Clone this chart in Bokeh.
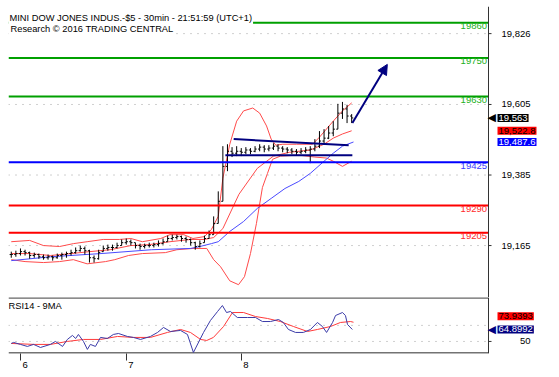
from bokeh.plotting import figure
from bokeh.layouts import column
from bokeh.models import Range1d, FixedTicker, Label, Span, Arrow, NormalHead
from bokeh.core.properties import value
from bokeh.embed import file_html
from bokeh.resources import INLINE

# ---------------- data ----------------
title1 = "MINI DOW JONES INDUS.-$5 - 30min - 21:51:59 (UTC+1)"
title2 = "Research \u00a9 2016 TRADING CENTRAL"
rsi_title = "RSI14 - 9MA"

bar_idx = list(range(0, 150, 2))
close = [19137, 19140, 19146, 19143, 19134, 19137, 19130, 19127, 19130, 19127,
         19134, 19137, 19140, 19143, 19149, 19156, 19149, 19127, 19124, 19143,
         19156, 19159, 19159, 19165, 19174, 19177, 19174, 19165, 19162, 19165,
         19165, 19168, 19171, 19177, 19187, 19190, 19193, 19187, 19184, 19174,
         19162, 19171, 19187, 19199, 19234, 19303, 19412, 19459, 19453, 19459,
         19456, 19463, 19459, 19466, 19472, 19466, 19469, 19475, 19469, 19466,
         19463, 19459, 19456, 19459, 19463, 19466, 19475, 19491, 19500, 19516,
         19528, 19578, 19591, 19569, 19563]
high = [19146, 19149, 19156, 19152, 19146, 19143, 19140, 19137, 19137, 19134,
        19140, 19143, 19146, 19152, 19159, 19165, 19162, 19152, 19134, 19152,
        19165, 19168, 19168, 19174, 19184, 19187, 19184, 19174, 19171, 19171,
        19174, 19174, 19181, 19187, 19196, 19199, 19199, 19196, 19193, 19187,
        19177, 19181, 19196, 19212, 19256, 19334, 19475, 19481, 19472, 19475,
        19469, 19472, 19469, 19475, 19481, 19478, 19478, 19484, 19481, 19475,
        19472, 19469, 19466, 19469, 19472, 19475, 19497, 19522, 19528, 19538,
        19553, 19607, 19613, 19604, 19575]
low = [19127, 19130, 19134, 19134, 19124, 19127, 19124, 19121, 19121, 19118,
       19124, 19121, 19127, 19134, 19140, 19146, 19137, 19112, 19112, 19121,
       19146, 19149, 19149, 19156, 19165, 19168, 19165, 19156, 19152, 19156,
       19159, 19159, 19162, 19168, 19177, 19181, 19184, 19177, 19174, 19165,
       19152, 19159, 19174, 19187, 19199, 19234, 19303, 19397, 19441, 19444,
       19444, 19450, 19450, 19456, 19459, 19456, 19459, 19463, 19459, 19456,
       19453, 19450, 19447, 19450, 19453, 19422, 19459, 19469, 19481, 19497,
       19506, 19528, 19560, 19547, 19547]

# Bollinger bands (upper / middle / lower) and blue moving average
ub_x = [0, 8, 14, 21, 27, 33, 40, 47, 52, 57, 65, 69, 75, 79, 84, 87, 90, 92, 95, 98,
        101, 105, 108, 111, 113, 115, 118, 124, 131, 134, 140, 144, 148]
ub_y = [19177, 19181, 19165, 19162, 19171, 19177, 19184, 19184, 19187, 19177, 19187, 19199,
        19199, 19187, 19193, 19215, 19256, 19375, 19481, 19553, 19585, 19594, 19578, 19538,
        19497, 19478, 19481, 19481, 19481, 19503, 19553, 19585, 19610]
mb_x = [0, 8, 17, 26, 34, 43, 52, 60, 69, 78, 84, 88, 92, 99, 107, 114, 121, 130, 136, 140, 144, 148]
mb_y = [19140, 19140, 19134, 19140, 19146, 19152, 19165, 19168, 19177, 19184, 19184, 19190,
        19218, 19325, 19406, 19444, 19456, 19463, 19481, 19500, 19513, 19523]
lb_x = [0, 6, 14, 21, 27, 33, 41, 45, 51, 57, 67, 72, 79, 85, 88, 91, 95, 98.8, 101.4, 104,
        106.6, 109.2, 111.4, 113.6, 117, 125, 132, 137, 140, 144, 148]
lb_y = [19121, 19115, 19112, 19115, 19121, 19108, 19115, 19121, 19134, 19140, 19143, 19152,
        19156, 19156, 19121, 19099, 19055, 19043, 19068, 19140, 19234, 19346, 19390, 19434,
        19444, 19447, 19441, 19438, 19428, 19412, 19428]
ma_x = [0, 17, 39, 61, 78, 82, 87, 90, 95, 101, 107, 113, 119, 125, 130, 136, 140, 144, 148.8]
ma_y = [19118, 19130, 19140, 19152, 19156, 19162, 19171, 19177, 19209, 19240, 19281, 19312,
        19343, 19365, 19390, 19428, 19453, 19475, 19488]

# analyst drawings
trend_up_x = [96.7, 146.7]
trend_up_y = [19497, 19478]
trend_lo_x = [93.1, 148.3]
trend_lo_y = [19447, 19447]
arrow_x = [148.3, 163.5]
arrow_y = [19547, 19730]

levels_green = [19860, 19750, 19630]
levels_blue = [19425]
levels_red = [19290, 19205]

price_ticks = [19826, 19605, 19385, 19165]
day_ticks = [4, 50, 100]
day_label_pos = [6, 52, 102]
day_labels = ["6", "7", "8"]

last_price = 19563
last_mid = 19522.8
last_ma = 19487.6

# RSI panel
rsi_x = [0, 1, 4, 7, 9.7, 12.7, 17, 19.2, 22.3, 24.4, 26.6, 28, 29.2, 31.4, 33.1, 34.4, 36.6,
         38.8, 41.8, 44.4, 46.6, 50.5, 53.1, 56.2, 60.5, 63.6, 66.2, 69.2, 73.6, 76.6, 79.2,
         83.6, 86.6, 89.7, 91.8, 93.6, 95.3, 98.3, 102.7, 106.2, 109.2, 112.7, 116.2, 118.3,
         120.5, 123.6, 127, 130.1, 133.1, 135.3, 137.1, 139.7, 141, 144, 145.3, 146.2, 148.3]
rsi_y = [47.5, 48.8, 46.3, 43.8, 46.3, 42.5, 46.3, 50, 43.8, 52.5, 57.5, 53.7, 58.7, 50, 40.1,
         46.3, 43.8, 55, 53.7, 58.7, 59.9, 56.2, 55, 52.5, 56.2, 61.2, 67.4, 62.4, 63.7, 58.7,
         36.3, 61.2, 76.1, 87.3, 94.7, 86, 87.3, 79.8, 79.8, 79.8, 74.8, 74.8, 77.3, 73.6, 64.9,
         61.2, 61.2, 64.9, 73.6, 68.6, 61.2, 73.6, 82.3, 86, 82.3, 71.1, 64.9]
rma_x = [0, 10, 17, 24.4, 31.4, 38.8, 46.2, 53.1, 60.5, 67.9, 73.6, 77.9, 82.3, 85, 87.9,
         92.3, 96.2, 101, 106.2, 111.4, 117, 122.7, 128.8, 133.1, 138.8, 143.1, 147.5, 148.8]
rma_y = [47.5, 46.3, 46.3, 50, 52.5, 52.5, 56.2, 55, 55, 61.2, 64.9, 61.2, 52.5, 51.2, 55,
         68.6, 86, 86, 81, 78.6, 74.8, 68.6, 62.4, 64.9, 68.6, 73.6, 74.8, 73.9]
rsi_ticks = [50]
rsi_grid = [50, 70]
last_rsi = 64.8992
last_rsima = 73.9393

# ---------------- layout constants ----------------
FONT = "Liberation Sans"
FS = "9.5px"
NAVY = "#000080"
BAND = "#ff4a4a"
AXC = "#333333"
GRIDC = "#a0a0a0"
PXU = 2.3                      # pixels per bar index
X0 = -1.2                      # left edge of the plot
AX = 207.5                     # position of the price scale line
X_END = X0 + 543 / PXU         # frame reaches into the right margin (for price tags)
xr = Range1d(X0, X_END)

opens = []
prev = close[0]
for c, h, l in zip(close, high, low):
    opens.append(min(max(prev, l), h))
    prev = c


def right_scale(fig, ticks, labels, label_dx, align):
    n = len(ticks)
    fig.add_layout(Span(location=AX, dimension="height", line_color=AXC, line_width=1))
    fig.segment([AX] * n, ticks, [AX + 3 / PXU] * n, ticks, line_color=AXC, line_width=1)
    fig.text([AX + label_dx / PXU] * n, ticks, text=labels, text_align=align,
             text_baseline="middle", text_font=value(FONT), text_font_size=value(FS),
             text_color="black")


def grid(fig, ys):
    n = len(ys)
    fig.segment([X0] * n, ys, [AX] * n, ys, line_color=GRIDC, line_dash="1 6", line_width=1)


def tag(fig, y, text, bg, fg, yoff=0, pointer=False):
    if pointer:
        fig.add_layout(Label(x=AX, y=y, text="\u25c0", x_offset=-1, y_offset=yoff,
                             text_align="left", text_baseline="middle",
                             text_font="DejaVu Sans", text_font_size="11px", text_color=bg))
    fig.add_layout(Label(x=AX, y=y, text=text, x_offset=9, y_offset=yoff, text_align="left",
                         text_baseline="middle", text_font=FONT, text_font_size=FS,
                         text_color=fg, background_fill_color=bg, padding=1))


# ---------------- price panel ----------------
p = figure(frame_width=543, frame_height=291, x_range=xr, y_range=Range1d(19003, 19910.6),
           y_axis_location=None, x_axis_location=None, output_backend="svg",
           toolbar_location=None, min_border_left=8, min_border_right=0,
           min_border_top=6, min_border_bottom=0, outline_line_color=None)
p.grid.visible = False

grid(p, price_ticks)
right_scale(p, price_ticks, [f"{t:,}" for t in price_ticks], 13, "left")

p.line(ub_x, ub_y, line_color=BAND, line_width=1)
p.line(mb_x, mb_y, line_color=BAND, line_width=1)
p.line(lb_x, lb_y, line_color=BAND, line_width=1)
p.line(ma_x, ma_y, line_color="#4a4aff", line_width=1)

p.segment(bar_idx, low, bar_idx, high, line_color="black", line_width=1)
p.segment([i - 0.7 for i in bar_idx], opens, bar_idx, opens, line_color="black", line_width=1)
p.segment(bar_idx, close, [i + 0.7 for i in bar_idx], close, line_color="black", line_width=1)

p.line(trend_up_x, trend_up_y, line_color=NAVY, line_width=2)
p.line(trend_lo_x, trend_lo_y, line_color=NAVY, line_width=2)
p.add_layout(Arrow(end=NormalHead(size=10, fill_color=NAVY, line_color=NAVY),
                   x_start=arrow_x[0], y_start=arrow_y[0], x_end=arrow_x[1], y_end=arrow_y[1],
                   line_color=NAVY, line_width=2))

for levels, lc, tc in ((levels_green, "#00a000", "#20b020"),
                       (levels_blue, "#0000ff", "#3a3aff"),
                       (levels_red, "#ff0000", "#ff2a2a")):
    n = len(levels)
    p.segment([X0] * n, levels, [AX] * n, levels, line_color=lc, line_width=2)
    for lv in levels:
        p.add_layout(Label(x=AX, y=lv, text=str(lv), text_align="right", text_baseline="top",
                           x_offset=-1.5, y_offset=-0.5, text_font=FONT, text_font_size=FS,
                           text_color=tc))

p.add_layout(Label(x=X0, y=19892, text=title1, text_align="left", text_baseline="top",
                   text_font=FONT, text_font_size="9.3px", text_color="black",
                   background_fill_color="white", padding=1))
p.add_layout(Label(x=X0, y=19862, text=title2, text_align="left", text_baseline="top",
                   text_font=FONT, text_font_size="9.3px", text_color="black",
                   background_fill_color="white", padding=2))

tag(p, last_price, f"{last_price:,.0f}", "black", "white", pointer=True)
tag(p, last_mid, f"{last_mid:,.1f}", "#ff0000", "black")
tag(p, last_ma, f"{last_ma:,.1f}", "#0000ff", "white")

# ---------------- RSI panel ----------------
r = figure(frame_width=543, frame_height=56, x_range=xr, y_range=Range1d(35, 104.7),
           y_axis_location=None, output_backend="svg", toolbar_location=None,
           min_border_left=8, min_border_right=0, min_border_top=0, min_border_bottom=0,
           outline_line_color=None)
r.grid.visible = False
r.xaxis.ticker = FixedTicker(ticks=day_label_pos, minor_ticks=day_ticks)
r.xaxis.major_label_overrides = dict(zip(day_label_pos, day_labels))
r.xaxis.major_tick_out = 0
r.xaxis.major_tick_in = 0
r.xaxis.minor_tick_out = 7
r.xaxis.minor_tick_in = 0
r.xaxis.minor_tick_line_color = AXC
r.xaxis.axis_line_color = None
r.xaxis.major_label_standoff = 1
r.xaxis.major_label_text_font = FONT
r.xaxis.major_label_text_font_size = FS
r.xaxis.major_label_text_color = "black"

grid(r, rsi_grid)
right_scale(r, rsi_ticks, [str(t) for t in rsi_ticks], 42, "right")
# panel borders (top separator and bottom line), ending at the price scale
r.segment([X0], [104.3], [AX], [104.3], line_color="#666666", line_width=2)
r.segment([X0], [35.5], [AX], [35.5], line_color="#444444", line_width=1.5)

r.line(rma_x, rma_y, line_color="#ff3a3a", line_width=1)
r.line(rsi_x, rsi_y, line_color="#3b3ba8", line_width=1)

r.add_layout(Label(x=X0, y=100.5, text=rsi_title, text_align="left", text_baseline="top",
                   text_font=FONT, text_font_size="9.3px", text_color="black"))
tag(r, last_rsima, f"{last_rsima:.4f}", "#ff0000", "black", yoff=6)
tag(r, last_rsi, f"{last_rsi:.4f}", NAVY, "white", pointer=True)

layout = column(p, r)
open("out.html", "w").write(file_html(layout, INLINE))
